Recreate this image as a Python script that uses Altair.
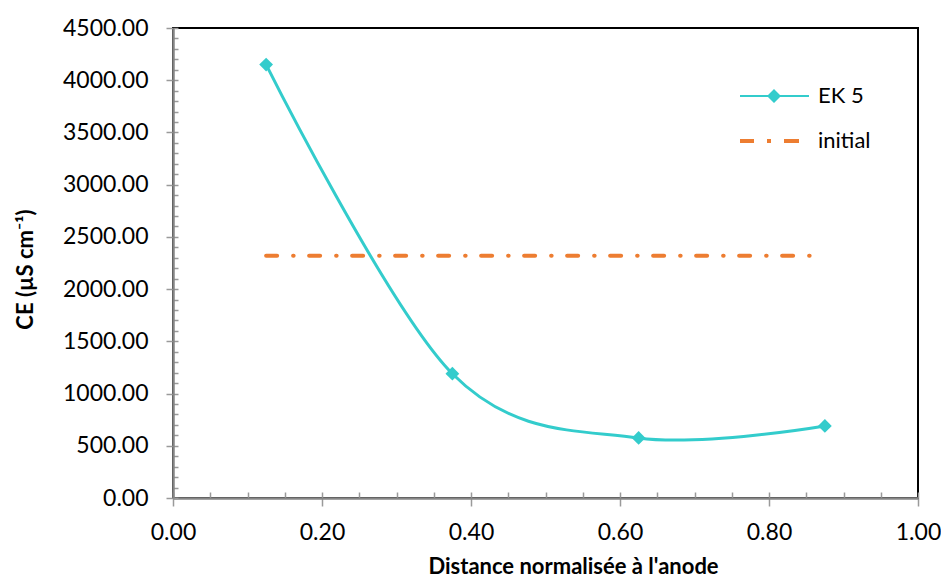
import altair as alt
import pandas as pd

# ---- data ----
distance = [0.125, 0.375, 0.625, 0.875]
ek5 = [4150, 1190, 575, 690]
initial_x = [0.125, 0.875]
initial_ce = [2320, 2320]
series_names = ["EK 5", "initial"]
series_colors = ["#33CCCC", "#ED7D31"]
x_ticks = [0.0, 0.2, 0.4, 0.6, 0.8, 1.0]
x_minor = [round(i * 0.05, 2) for i in range(21)]
y_ticks = list(range(0, 4501, 500))
y_minor = list(range(0, 4501, 100))

W, H = 745, 470
FONT = "Lato"
AXIS_GREY = "#868686"
TICK_GREY = "#9a9a9a"

df_ek = pd.DataFrame({"d": distance, "ce": ek5})
df_init = pd.DataFrame({"d": initial_x, "ce": initial_ce})
df_leg = pd.DataFrame({"series": series_names})

xs = alt.Scale(domain=[0, 1], nice=False, zero=False)
ys = alt.Scale(domain=[0, 4500], nice=False)

x_main = alt.Axis(
    values=x_ticks, format=".2f", orient="bottom",
    domainColor=AXIS_GREY, domainWidth=2.5,
    tickColor=TICK_GREY, tickSize=8, tickWidth=1.5,
    labelFont=FONT, labelFontSize=23, labelColor="black", labelPadding=15,
    labelFlush=False, labelOverlap=False, grid=False,
    title="Distance normalisée à l'anode", titleFont=FONT, titleFontSize=22,
    titleFontWeight="bold", titleColor="black", titleX=400, titleY=75,
    titleAlign="center", titleBaseline="alphabetic",
)
y_main = alt.Axis(
    values=y_ticks, format=".2f", orient="left",
    domainColor=AXIS_GREY, domainWidth=2.5,
    tickColor=TICK_GREY, tickSize=7, tickWidth=1.5,
    labelFont=FONT, labelFontSize=23, labelColor="black", labelPadding=18,
    labelFlush=False, labelOverlap=False, grid=False,
    title="CE (µS cm⁻¹)", titleFont=FONT, titleFontSize=22,
    titleFontWeight="bold", titleColor="black", titleX=-148, titleY=241,
    titleAlign="center", titleBaseline="middle", titleAngle=270,
)
x_min_axis = alt.Axis(
    values=x_minor, orient="top", offset=-H, domain=False, labels=False,
    tickColor=TICK_GREY, tickSize=6, tickWidth=1.5, grid=False, title=None,
)
y_min_axis = alt.Axis(
    values=y_minor, orient="right", offset=-W, domain=False, labels=False,
    tickColor=TICK_GREY, tickSize=5, tickWidth=1.5, grid=False, title=None,
)

line = alt.Chart(df_ek).mark_line(
    interpolate="cardinal", tension=0, color=series_colors[0], strokeWidth=3
).encode(
    x=alt.X("d:Q", scale=xs, axis=x_main),
    y=alt.Y("ce:Q", scale=ys, axis=y_main),
)

pts = alt.Chart(df_ek).mark_point(
    shape="diamond", filled=True, size=190, color=series_colors[0], opacity=1
).encode(
    x=alt.X("d:Q", scale=xs, axis=None),
    y=alt.Y("ce:Q", scale=ys, axis=None),
)

init = alt.Chart(df_init).mark_line(
    color=series_colors[1], strokeWidth=4, strokeCap="round",
    strokeDash=[11, 16, 0.5, 15.5],
).encode(
    x=alt.X("d:Q", scale=xs, axis=x_min_axis),
    y=alt.Y("ce:Q", scale=ys, axis=y_min_axis),
)

ek_symbol = ("M-3.4,-0.1L3.5,-0.1L3.5,0.1L-3.4,0.1Z "
             "M0,-0.7L0.7,0L0,0.7L-0.7,0Z")
init_symbol = ("M-3.4,-0.2L-2.0,-0.2L-2.0,0.2L-3.4,0.2Z "
               "M-0.7,-0.2L-0.3,-0.2L-0.3,0.2L-0.7,0.2Z "
               "M1.0,-0.2L2.5,-0.2L2.5,0.2L1.0,0.2Z")

leg_def = alt.Legend(
    orient="none", legendX=590, legendY=57, title=None, padding=0,
    labelFont=FONT, labelFontSize=22, labelColor="black", labelOffset=33,
    rowPadding=23, symbolSize=400, symbolStrokeWidth=0,
)

leg = alt.Chart(df_leg).transform_filter("datum.series == 'none'").mark_point(
    filled=True, size=400, opacity=1, strokeWidth=0
).encode(
    color=alt.Color("series:N", scale=alt.Scale(domain=series_names, range=series_colors), legend=leg_def),
    shape=alt.Shape("series:N", scale=alt.Scale(domain=series_names, range=[ek_symbol, init_symbol]), legend=leg_def),
)

chart = alt.layer(init, line, pts, leg).resolve_axis(
    x="independent", y="independent"
).properties(
    width=W, height=H,
    autosize=alt.AutoSizeParams(type="none"),
    padding={"left": 165, "top": 20, "right": 23, "bottom": 80},
).configure_view(
    stroke="black", strokeWidth=2
)

chart.save("out.html", embed_options={"renderer": "svg", "actions": False})
